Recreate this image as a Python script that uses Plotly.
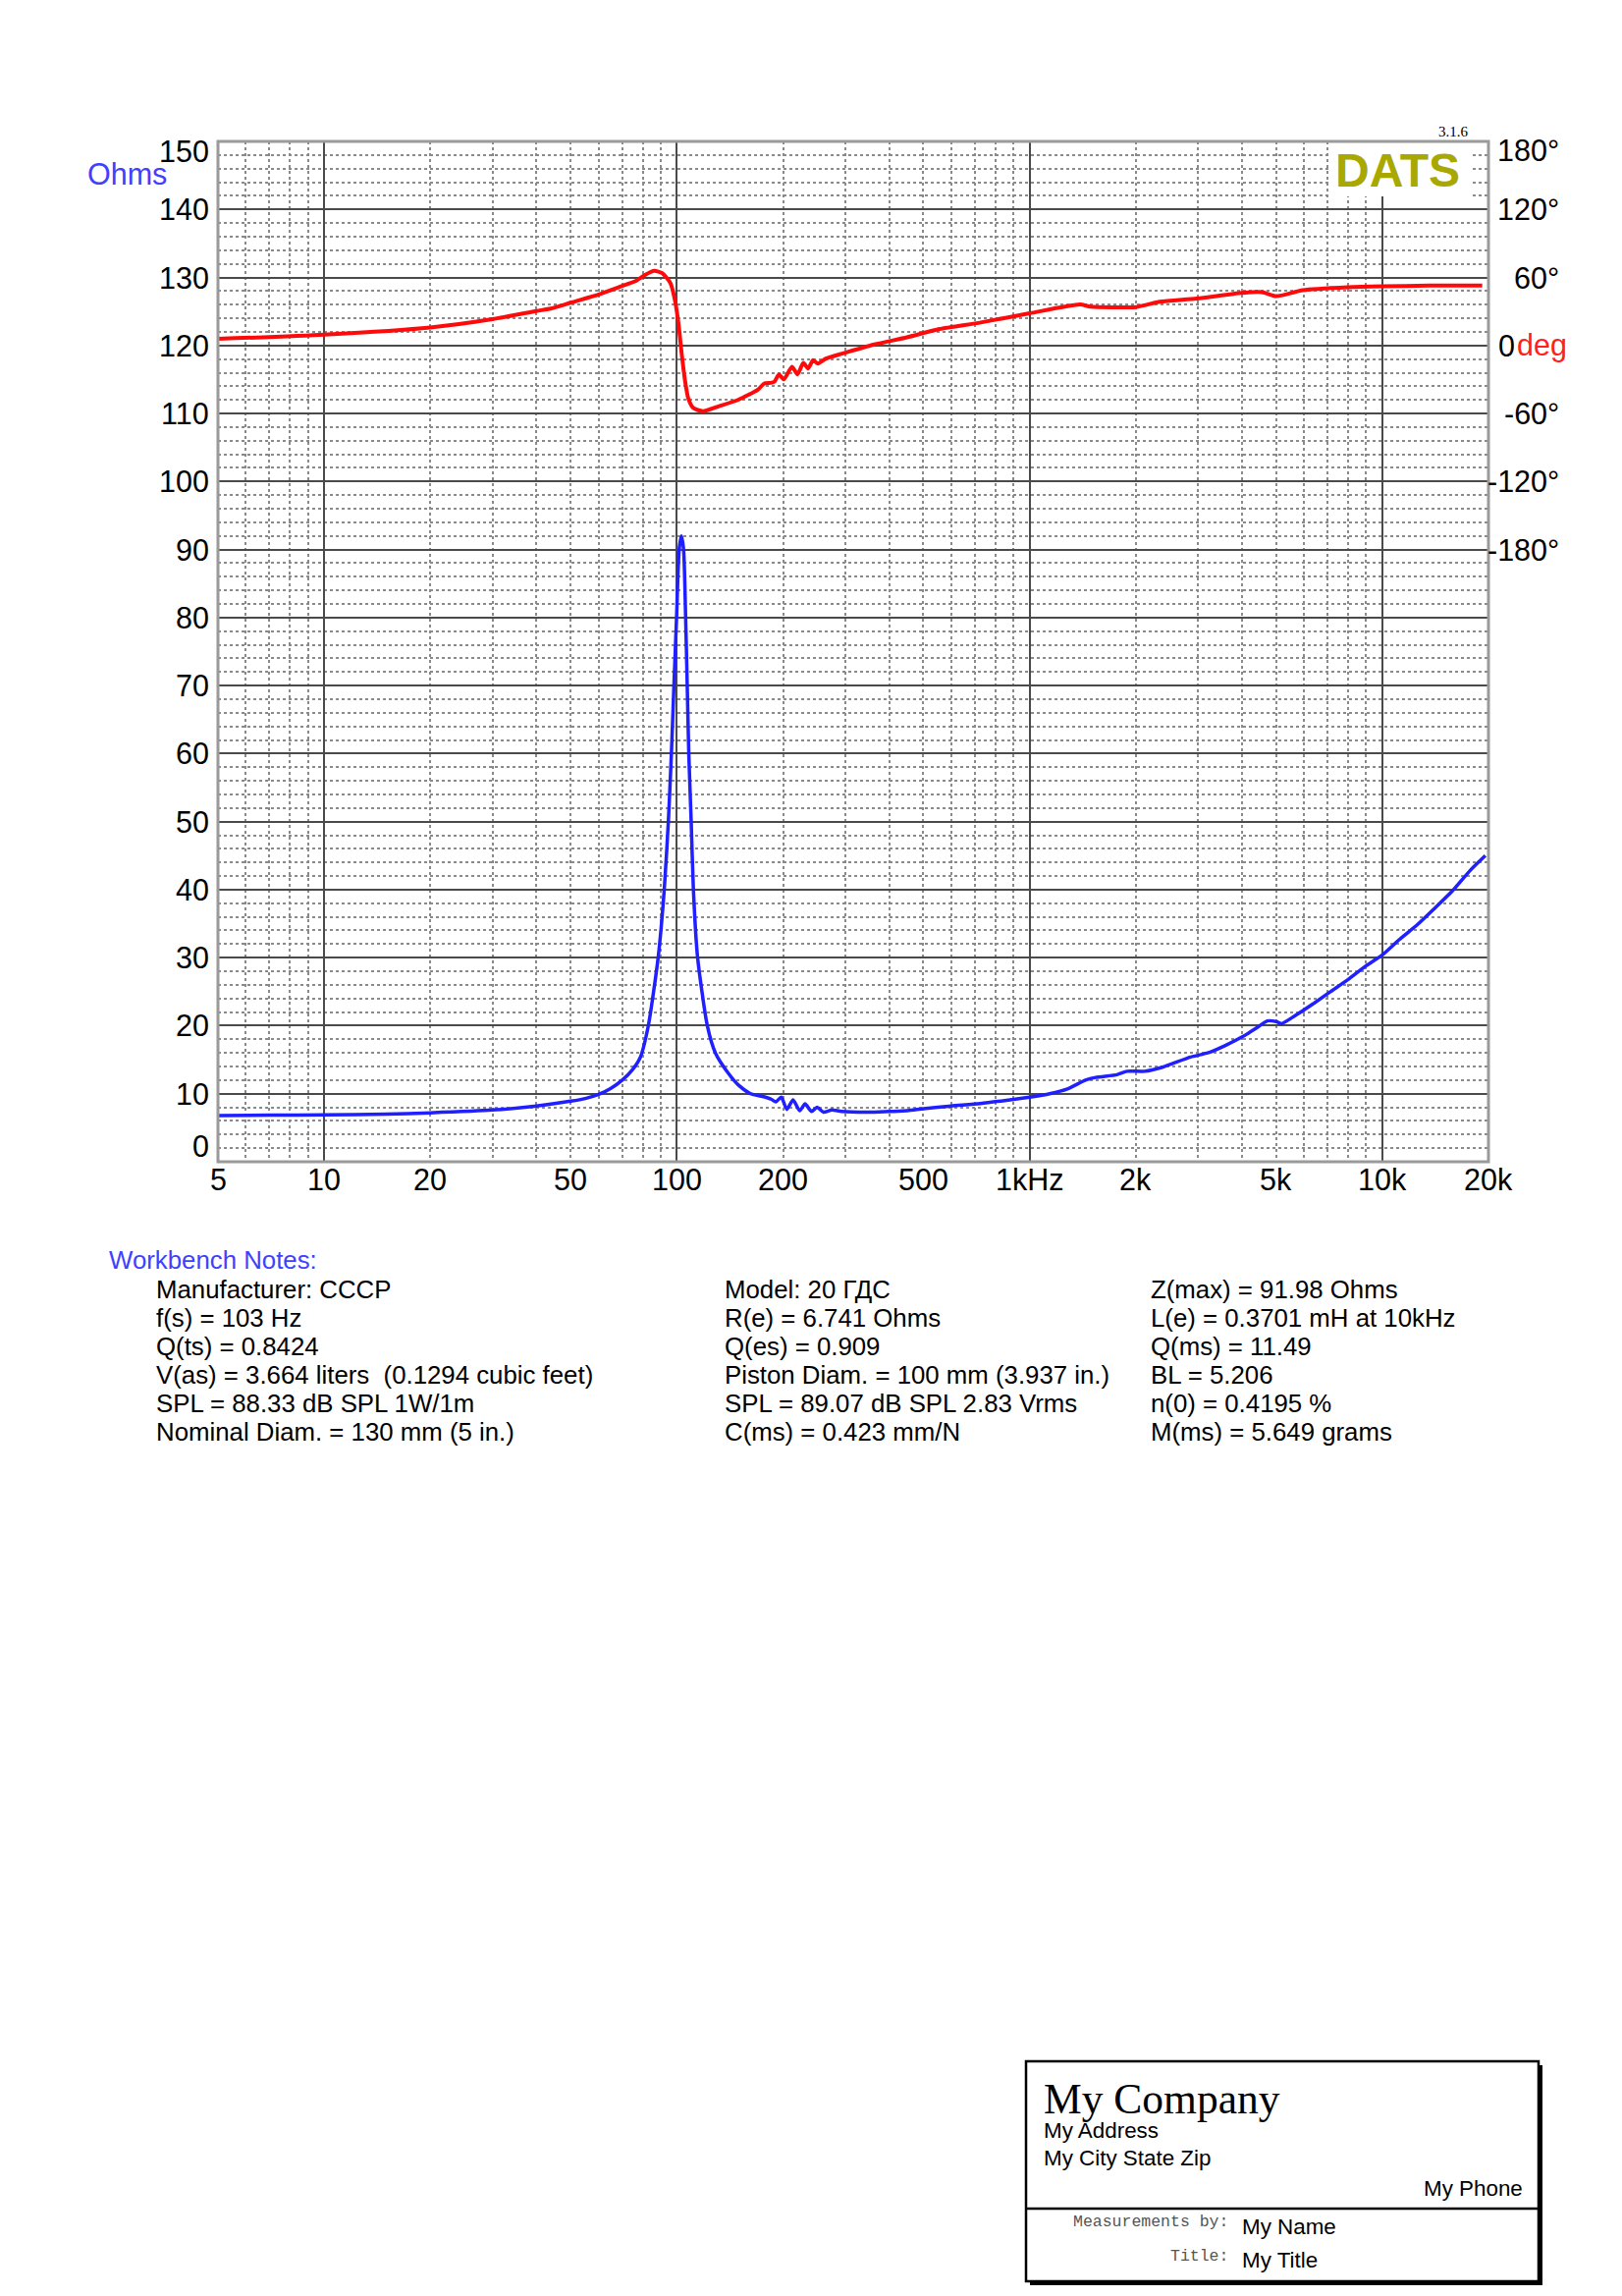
import math
import plotly.graph_objects as go

# ---------------- data ----------------
imp_freq = [5, 7, 10, 15, 20, 30, 40, 50, 55, 60, 65, 70, 75, 78.7, 83, 88.5, 92.1, 94.6, 96.5,
            98.1, 99.8, 101.5, 103.0, 104.5, 105.9, 107.0, 108.1, 109.8, 111.4, 114.5, 122,
            128.6, 140, 150, 162, 175, 185, 190.8, 197.7, 205, 213.6, 222.9, 231, 240.9, 249.7,
            260.4, 275, 293, 350, 400, 450, 500, 600, 724, 850, 1000, 1140, 1280, 1440, 1540,
            1770, 1890, 2120, 2380, 2860, 3200, 3590, 4020, 4410, 4720, 5000, 5180, 5670, 6360,
            7130, 8000, 8960, 10000, 11200, 12600, 14100, 15800, 17800, 19600]
imp_ohms = [6.8, 6.85, 6.9, 7.0, 7.2, 7.6, 8.2, 8.9, 9.3, 9.9, 10.8, 12.0, 13.6, 15.3, 20, 30, 40,
            50, 60, 70, 80, 90, 92.0, 90, 80, 70, 60, 50, 40, 30, 20, 16, 13, 11.2, 10, 9.6, 9.2,
            8.8, 9.5, 7.7, 9.1, 7.5, 8.5, 7.4, 8.0, 7.3, 7.6, 7.4, 7.3, 7.4, 7.5, 7.8, 8.2, 8.56,
            9.0, 9.5, 10.0, 10.7, 12.0, 12.4, 12.8, 13.3, 13.3, 13.9, 15.4, 16.0, 17.1, 18.4, 19.7,
            20.7, 20.6, 20.3, 21.5, 23.2, 25.0, 26.8, 28.75, 30.4, 32.7, 34.9, 37.3, 39.8, 42.9, 45.0]

ph_freq = [5, 10, 20, 30, 40, 43.8, 50, 60, 70, 76, 81, 86.3, 90.9, 95.9, 98.9, 101.1, 103.2,
           105.4, 107.7, 111.2, 118.5, 131.7, 149.5, 169.6, 176.9, 184.6, 189, 194.7, 201.1, 212,
           219.8, 228.4, 235.5, 243.3, 251.3, 264.6, 294, 363, 449, 555, 727, 1000, 1390, 1490,
           2000, 2340, 2980, 3990, 4560, 5000, 5950, 8000, 10000, 13600, 19200]
ph_deg = [5.8, 9.6, 15.9, 23.2, 30.4, 32.5, 37.7, 44.9, 52.5, 56.5, 62, 65.8, 63.8, 55, 39, 18.8,
          -7.2, -30.4, -46.4, -55, -58, -53.6, -47.8, -39.1, -33.5, -33, -32, -25.5, -29.9, -18.8,
          -25.5, -15.4, -20.3, -13, -15.9, -11.6, -7.2, 0.9, 7.2, 14.5, 20.3, 28.4, 36.2, 34.2,
          33.9, 38.6, 41.4, 46.4, 47, 43.5, 48.7, 51.3, 52.2, 52.8, 52.8]

x_tick_vals = [5, 10, 20, 50, 100, 200, 500, 1000, 2000, 5000, 10000, 20000]
x_tick_text = ["5", "10", "20", "50", "100", "200", "500", "1kHz", "2k", "5k", "10k", "20k"]
ohm_tick_vals = list(range(0, 151, 10))
phase_tick_vals = [-180, -120, -60, 0, 60, 120, 180]
phase_tick_text = ["-180°", "-120°", "-60°", "0", "60°", "120°", "180°"]

x_major_grid = [10, 100, 1000, 10000]
x_minor_grid = [m * 10 ** e for e in range(0, 5) for m in range(2, 10) if 5 < m * 10 ** e < 20000]

notes_col1 = ["Manufacturer: CCCP", "f(s) = 103 Hz", "Q(ts) = 0.8424",
              "V(as) = 3.664 liters \u00a0(0.1294 cubic feet)", "SPL = 88.33 dB SPL 1W/1m",
              "Nominal Diam. = 130 mm (5 in.)"]
notes_col2 = ["Model: 20 ГДС", "R(e) = 6.741 Ohms", "Q(es) = 0.909",
              "Piston Diam. = 100 mm (3.937 in.)", "SPL = 89.07 dB SPL 2.83 Vrms",
              "C(ms) = 0.423 mm/N"]
notes_col3 = ["Z(max) = 91.98 Ohms", "L(e) = 0.3701 mH at 10kHz", "Q(ms) = 11.49", "BL = 5.206",
              "n(0) = 0.4195 %", "M(ms) = 5.649 grams"]

# ---------------- layout geometry (page pixels) ----------------
PAGE_W, PAGE_H = 1652, 2338
BODY = 8  # default body margin of the html page
FIG_W, FIG_H = PAGE_W - BODY, PAGE_H - BODY
PL, PR, PT, PB = 222, 1516, 144, 1183
PW, PH = PR - PL, PB - PT
SANS = "Liberation Sans, Arial, sans-serif"
SERIF = "Liberation Serif, Times New Roman, serif"
MONO = "Liberation Mono, Courier New, monospace"
BLUE_TXT = "#4040ff"


def xp(px):
    return (px - PL) / PW


def yp(py):
    return (PB - py) / PH


fig = go.Figure()
fig.add_trace(go.Scatter(x=imp_freq, y=imp_ohms, mode="lines",
                         line=dict(color="#1f1fff", width=3.5, shape="spline", smoothing=0.6),
                         hoverinfo="skip", showlegend=False))
fig.add_trace(go.Scatter(x=ph_freq, y=ph_deg, yaxis="y2", mode="lines",
                         line=dict(color="#ff0a0a", width=4, shape="spline", smoothing=0.6),
                         hoverinfo="skip", showlegend=False))

xr = [math.log10(5), math.log10(20000)]
fig.update_layout(
    width=FIG_W, height=FIG_H,
    margin=dict(l=PL - BODY, r=FIG_W - (PR - BODY), t=PT - BODY, b=FIG_H - (PB - BODY), pad=0,
                autoexpand=False),
    paper_bgcolor="white", plot_bgcolor="white", showlegend=False,
    xaxis=dict(type="log", range=xr, tickvals=x_major_grid, showgrid=True, gridcolor="#4a4a4a",
               gridwidth=1.6, showticklabels=False, ticks="", zeroline=False, fixedrange=True,
               automargin=False, showline=False,
               minor=dict(tickvals=x_minor_grid, showgrid=True, gridcolor="#8a8a8a",
                          griddash="dot", gridwidth=1.5, ticks="")),
    yaxis=dict(range=[0, 150], tickvals=ohm_tick_vals, showgrid=True, gridcolor="#4a4a4a",
               gridwidth=1.6, showticklabels=False, ticks="", zeroline=False, fixedrange=True,
               automargin=False,
               minor=dict(dtick=2, showgrid=True, gridcolor="#8a8a8a", griddash="dot",
                          gridwidth=1.5, ticks="")),
    yaxis2=dict(range=[-720, 180], overlaying="y", side="right", showgrid=False,
                showticklabels=False, ticks="", zeroline=False, fixedrange=True, automargin=False),
)

shapes = []
# white patch behind the logo
shapes.append(dict(type="rect", xref="paper", yref="paper", x0=xp(1356), x1=xp(1497), y0=yp(200),
                   y1=yp(PT), fillcolor="white", line=dict(width=0), layer="above"))
# plot border
shapes.append(dict(type="rect", xref="paper", yref="paper", x0=0, x1=1, y0=0, y1=1,
                   line=dict(color="#9a9a9a", width=3), layer="above"))
# title block: shadow, box, divider
shapes.append(dict(type="rect", xref="paper", yref="paper", x0=xp(1049), x1=xp(1571), y0=yp(2327),
                   y1=yp(2103), fillcolor="black", line=dict(width=0), layer="above"))
shapes.append(dict(type="rect", xref="paper", yref="paper", x0=xp(1045), x1=xp(1567), y0=yp(2323),
                   y1=yp(2099), fillcolor="white", line=dict(color="black", width=2.5), layer="above"))
shapes.append(dict(type="line", xref="paper", yref="paper", x0=xp(1045), x1=xp(1567), y0=yp(2249),
                   y1=yp(2249), line=dict(color="black", width=2.5), layer="above"))

ann = []


def add_text(text, px, py, xanchor="left", size=25.8, color="black", family=SANS, yanchor="middle"):
    ann.append(dict(text=text, xref="paper", yref="paper", x=xp(px), y=yp(py), xanchor=xanchor,
                    yanchor=yanchor, showarrow=False, font=dict(size=size, color=color, family=family)))


AX = 30.5
# left (Ohms) tick labels
for v in ohm_tick_vals:
    shift = 0
    if v == 150:
        shift = -10
    elif v == 0:
        shift = 16
    ann.append(dict(text=str(v), xref="paper", yref="y", x=xp(215), y=v, yshift=shift,
                    xanchor="right", yanchor="middle", showarrow=False,
                    font=dict(size=AX, color="black", family=SANS)))
# right (deg) tick labels
for v, t in zip(phase_tick_vals, phase_tick_text):
    shift = -9 if v == 180 else 0
    if v == 0:
        ann.append(dict(text=t, xref="paper", yref="y2", x=xp(1524), y=v, xanchor="left",
                        yanchor="middle", showarrow=False,
                        font=dict(size=AX, color="black", family=SANS)))
        ann.append(dict(text="deg", xref="paper", yref="y2", x=xp(1543), y=v, xanchor="left",
                        yanchor="middle", showarrow=False,
                        font=dict(size=AX, color="#ff2020", family=SANS)))
    else:
        ann.append(dict(text=t, xref="paper", yref="y2", x=xp(1590), y=v, yshift=shift,
                        xanchor="right", yanchor="middle", showarrow=False,
                        font=dict(size=AX, color="black", family=SANS)))
# bottom frequency labels
for v, t in zip(x_tick_vals, x_tick_text):
    ann.append(dict(text=t, xref="x", yref="paper", x=math.log10(v), y=yp(1201), xanchor="center",
                    yanchor="middle", showarrow=False,
                    font=dict(size=AX, color="black", family=SANS)))

add_text("Ohms", 87, 177, size=30.5, color=BLUE_TXT)
add_text("<b>DATS</b>", 1423, 173, xanchor="center", size=48, color="#a8a800")
add_text("3.1.6", 1480, 134, xanchor="center", size=15, family=SERIF)

# workbench notes
add_text("Workbench Notes:", 109, 1283, color=BLUE_TXT)
for i, (a, b, c) in enumerate(zip(notes_col1, notes_col2, notes_col3)):
    y = 1312.7 + i * 29.1
    add_text(a, 157, y)
    add_text(b, 736, y)
    add_text(c, 1170, y)

# title block
add_text("My Company", 1061, 2137, size=43.5, family=SERIF)
add_text("My Address", 1061, 2169, size=22.4)
add_text("My City State Zip", 1061, 2197, size=22.4)
add_text("My Phone", 1553, 2228, xanchor="right", size=22.4)
add_text("Measurements by:", 1253, 2263, xanchor="right", size=16.5, color="#555555", family=MONO)
add_text("My Name", 1263, 2267, size=22.4)
add_text("Title:", 1253, 2297, xanchor="right", size=16.5, color="#555555", family=MONO)
add_text("My Title", 1263, 2302, size=22.4)

fig.update_layout(shapes=shapes, annotations=ann)
fig.write_html("out.html")
